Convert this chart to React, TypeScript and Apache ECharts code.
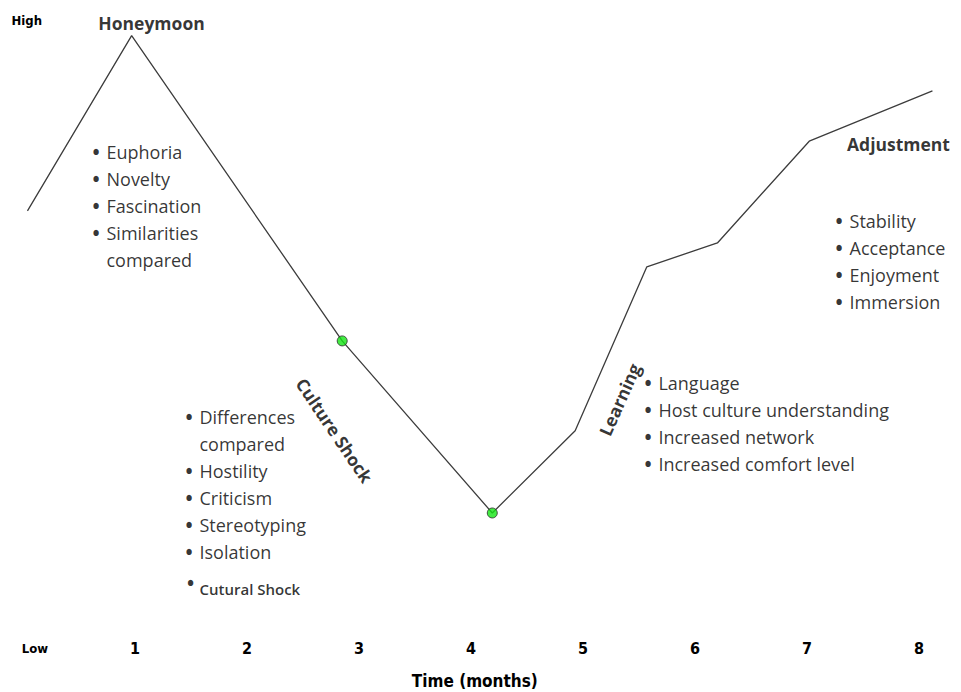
import React, { useEffect, useRef } from "react";
import * as echarts from "echarts";

// ---- data ----
const months = [0.04, 0.97, 2.85, 4.19, 4.93, 5.57, 6.2, 7.02, 8.12];
const adjustmentLevel = [69.6, 97.5, 48.9, 21.5, 34.6, 60.7, 64.5, 80.7, 88.7];
const markedPoints = [2, 3];
const xTickLabels = ["", "1", "2", "3", "4", "5", "6", "7", "8"];
const yTickLabels = ["Low", "High"];
const xAxisTitle = "Time (months)";
const phaseNames = ["Honeymoon", "Culture Shock", "Learning", "Adjustment"];
const honeymoonTraits = ["Euphoria", "Novelty", "Fascination", "Similarities\ncompared"];
const cultureShockTraits = ["Differences\ncompared", "Hostility", "Criticism", "Stereotyping", "Isolation"];
const cultureShockExtra = "Cutural Shock";
const learningTraits = ["Language", "Host culture understanding", "Increased network", "Increased comfort level"];
const adjustmentTraits = ["Stability", "Acceptance", "Enjoyment", "Immersion"];

const TXT = "'Open Sans', 'Noto Sans', sans-serif";
const COND = "'DejaVu Sans Condensed', 'Liberation Sans Narrow', 'Liberation Sans', sans-serif";
const INK = "#000";

const bulletText = (lines: string[]) =>
  lines
    .map((l) =>
      l
        .split("\n")
        .map((p, i) => (i === 0 ? "{b|•}" : "{b| }") + "{t|" + p + "}")
        .join("\n")
    )
    .join("\n");

const listRich = {
  b: { width: 14, fontSize: 19, fontWeight: "bold", fontFamily: TXT, color: INK, lineHeight: 27 },
  t: { fontSize: 18, fontFamily: TXT, color: INK, lineHeight: 27 },
};

export default function App() {
  const ref = useRef<HTMLDivElement>(null);
  useEffect(() => {
    if (!ref.current) return;
    const chart = echarts.init(ref.current, null, { renderer: "svg" });

    const title = (text: string, at: number[], rotate = 0) => ({
      value: at,
      label: {
        show: true,
        position: [0, 0],
        formatter: text,
        rotate,
        align: "center",
        verticalAlign: "middle",
        fontFamily: TXT,
        fontWeight: "bold",
        fontSize: 17.5,
        color: INK,
      },
    });
    const list = (text: string, at: number[]) => ({
      value: at,
      label: {
        show: true,
        position: [0, 0],
        formatter: text,
        align: "left",
        verticalAlign: "top",
        rich: listRich,
      },
    });
    const plain = (text: string, at: number[], align: string, size: number, weight: any) => ({
      value: at,
      label: {
        show: true,
        position: [0, 0],
        formatter: text,
        align,
        verticalAlign: "middle",
        fontFamily: TXT,
        fontWeight: weight,
        fontSize: size,
        color: INK,
      },
    });

    const notes = [
      title(phaseNames[0], [1.152, 99.5]),
      list(bulletText(honeymoonTraits), [0.625, 81.1]),
      title(phaseNames[1], [2.786, 34.6], -56),
      list(bulletText(cultureShockTraits), [1.455, 38.8]),
      plain("•", [1.5, 10.35], "center", 19, "bold"),
      plain(cultureShockExtra, [1.58, 9.24], "left", 15, 600),
      title(phaseNames[2], [5.33, 39.5], 66),
      list(bulletText(learningTraits), [5.553, 44.2]),
      title(phaseNames[3], [7.821, 80.1]),
      list(bulletText(adjustmentTraits), [7.259, 70.1]),
    ];

    chart.setOption({
      animation: false,
      backgroundColor: "#fff",
      grid: { left: 23, right: 8.4, top: 20, bottom: 44, outerBoundsMode: "none" },
      xAxis: {
        type: "value",
        min: 0,
        max: 8.3,
        interval: 1,
        axisLine: { show: false },
        axisTick: { show: false },
        splitLine: { show: false },
        axisLabel: {
          margin: 0,
          verticalAlign: "middle",
          fontFamily: COND,
          fontWeight: "bold",
          fontSize: 16,
          color: INK,
          showMaxLabel: false,
          formatter: (v: number) => xTickLabels[Math.round(v)] ?? "",
        },
        name: xAxisTitle,
        nameLocation: "middle",
        nameGap: 33,
        nameTextStyle: {
          fontFamily: COND,
          fontWeight: "bold",
          fontSize: 17,
          color: INK,
          verticalAlign: "middle",
          padding: [0, 26, 0, 0],
        },
      },
      yAxis: {
        type: "value",
        min: 0,
        max: 100,
        interval: 100,
        axisLine: { show: false },
        axisTick: { show: false },
        splitLine: { show: false },
        axisLabel: {
          margin: -25,
          align: "right",
          formatter: (v: number) => (v === 0 ? "{lo|" + yTickLabels[0] + "}" : "{hi|" + yTickLabels[1] + "}"),
          rich: {
            lo: { fontFamily: COND, fontWeight: "bold", fontSize: 13, color: INK },
            hi: { fontFamily: COND, fontWeight: "bold", fontSize: 13, color: INK, padding: [0, 6, 0, 0] },
          },
        },
      },
      series: [
        {
          type: "line",
          data: months.map((m, i) => [m, adjustmentLevel[i]]),
          showSymbol: false,
          symbol: "none",
          lineStyle: { color: "#3c3c3c", width: 1.3 },
          z: 2,
        },
        {
          type: "scatter",
          data: markedPoints.map((i) => [months[i], adjustmentLevel[i]]),
          symbol: "circle",
          symbolSize: 10,
          itemStyle: { color: "#14e614", borderColor: "#2a2a2a", borderWidth: 1 },
          z: 3,
        },
        {
          type: "scatter",
          data: notes,
          symbolSize: 1,
          itemStyle: { color: "rgba(0,0,0,0)" },
          z: 4,
        },
      ],
    });
    return () => chart.dispose();
  }, []);
  return (
    <div
      ref={ref}
      style={{ position: "fixed", left: 0, top: 0, width: 961, height: 692, background: "#fff" }}
    />
  );
}
